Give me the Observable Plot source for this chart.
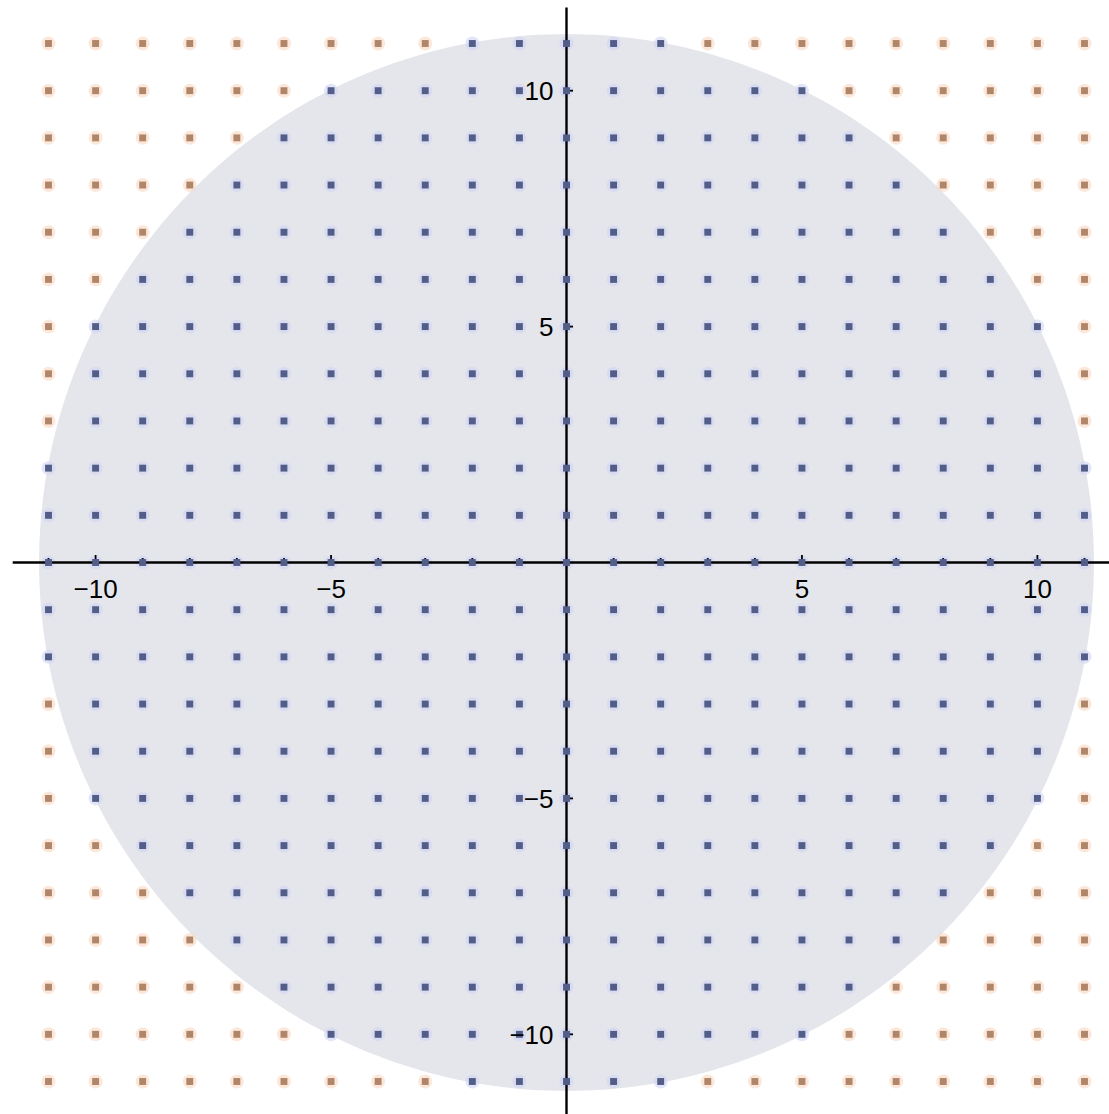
<!DOCTYPE html>
<html>
<head>
<meta charset="utf-8">
<script src="https://cdn.jsdelivr.net/npm/d3@7"></script>
<script src="https://cdn.jsdelivr.net/npm/@observablehq/plot@0.6"></script>
<style>
  html, body { margin: 0; padding: 0; background: #ffffff; overflow: hidden; }
</style>
</head>
<body>
<div id="chart"></div>
<script>
// Integer lattice coordinates shown on both axes
const gridValues = [-11, -10, -9, -8, -7, -6, -5, -4, -3, -2, -1, 0, 1, 2, 3, 4, 5, 6, 7, 8, 9, 10, 11];
// For |y| = 0..11: largest |x| whose point lies inside the shaded disc (blue points)
const rowHalfWidth = [11, 11, 11, 10, 10, 10, 9, 8, 7, 6, 5, 2];
// Radius of the shaded disc
const circleRadius = 11.2;
// Labelled ticks
const tickLabels = [-10, -5, 5, 10];

// Build lattice table
const points = [];
for (const y of gridValues) {
  for (const x of gridValues) {
    points.push({x, y, inside: Math.abs(x) <= rowHalfWidth[Math.abs(y)]});
  }
}
const inner = points.filter(d => d.inside);
const outer = points.filter(d => !d.inside);

// Disc outline
const disc = d3.range(0, 361, 1).map(a => ({
  x: circleRadius * Math.cos(a * Math.PI / 180),
  y: circleRadius * Math.sin(a * Math.PI / 180)
}));

const xRange = [48, 1084], yRange = [1081, 43];
const xPx = (xRange[1] - xRange[0]) / 22;
const yPx = (yRange[0] - yRange[1]) / 22;
const minorLen = 4, majorLen = 7;
const tickVals = gridValues.filter(v => v !== 0);
const isMajor = v => v % 5 === 0;
const fmt = d => d < 0 ? "\u2212" + Math.abs(d) : String(d);

const font = "Liberation Sans, Arial, sans-serif";

const chart = Plot.plot({
  width: 1109,
  height: 1114,
  margin: 0,
  style: {background: "#ffffff", overflow: "hidden"},
  x: {domain: [-11, 11], range: xRange, axis: null},
  y: {domain: [-11, 11], range: yRange, axis: null},
  marks: [
    Plot.line(disc, {x: "x", y: "y", fill: "#e5e6eb", stroke: "none"}),
    // halos
    Plot.dot(outer, {x: "x", y: "y", r: 7, fill: "#f8d6bb", fillOpacity: 0.55, stroke: "none"}),
    Plot.dot(inner, {x: "x", y: "y", r: 7, fill: "#d0d6f4", fillOpacity: 0.6, stroke: "none"}),
    // axes
    Plot.ruleY([0], {x1: -11.75, x2: 11.75, stroke: "#000", strokeWidth: 2.4}),
    Plot.ruleX([0], {y1: -11.75, y2: 11.75, stroke: "#000", strokeWidth: 2.4}),
    // ticks on x-axis (upward)
    Plot.ruleX(tickVals, {x: d => d, y1: 0, y2: d => (isMajor(d) ? majorLen : minorLen) / yPx, stroke: "#000", strokeWidth: 1.8}),
    // ticks on y-axis (rightward)
    Plot.ruleY(tickVals, {y: d => d, x1: 0, x2: d => (isMajor(d) ? majorLen : minorLen) / xPx, stroke: "#000", strokeWidth: 1.8}),
    // cores
    Plot.dot(outer, {x: "x", y: "y", r: 3.9, fill: "#b0866a", stroke: "none", symbol: "square"}),
    Plot.dot(inner, {x: "x", y: "y", r: 3.9, fill: "#525d88", stroke: "none", symbol: "square"}),
    // labels
    Plot.text(tickLabels, {x: d => d, y: 0, text: fmt, dy: 27, fontSize: 26, fontFamily: font, fill: "#000", textAnchor: "middle"}),
    Plot.text(tickLabels, {x: 0, y: d => d, text: fmt, dx: -13, dy: 1, fontSize: 26, fontFamily: font, fill: "#000", textAnchor: "end"})
  ]
});
document.getElementById("chart").appendChild(chart);
</script>
</body>
</html>
